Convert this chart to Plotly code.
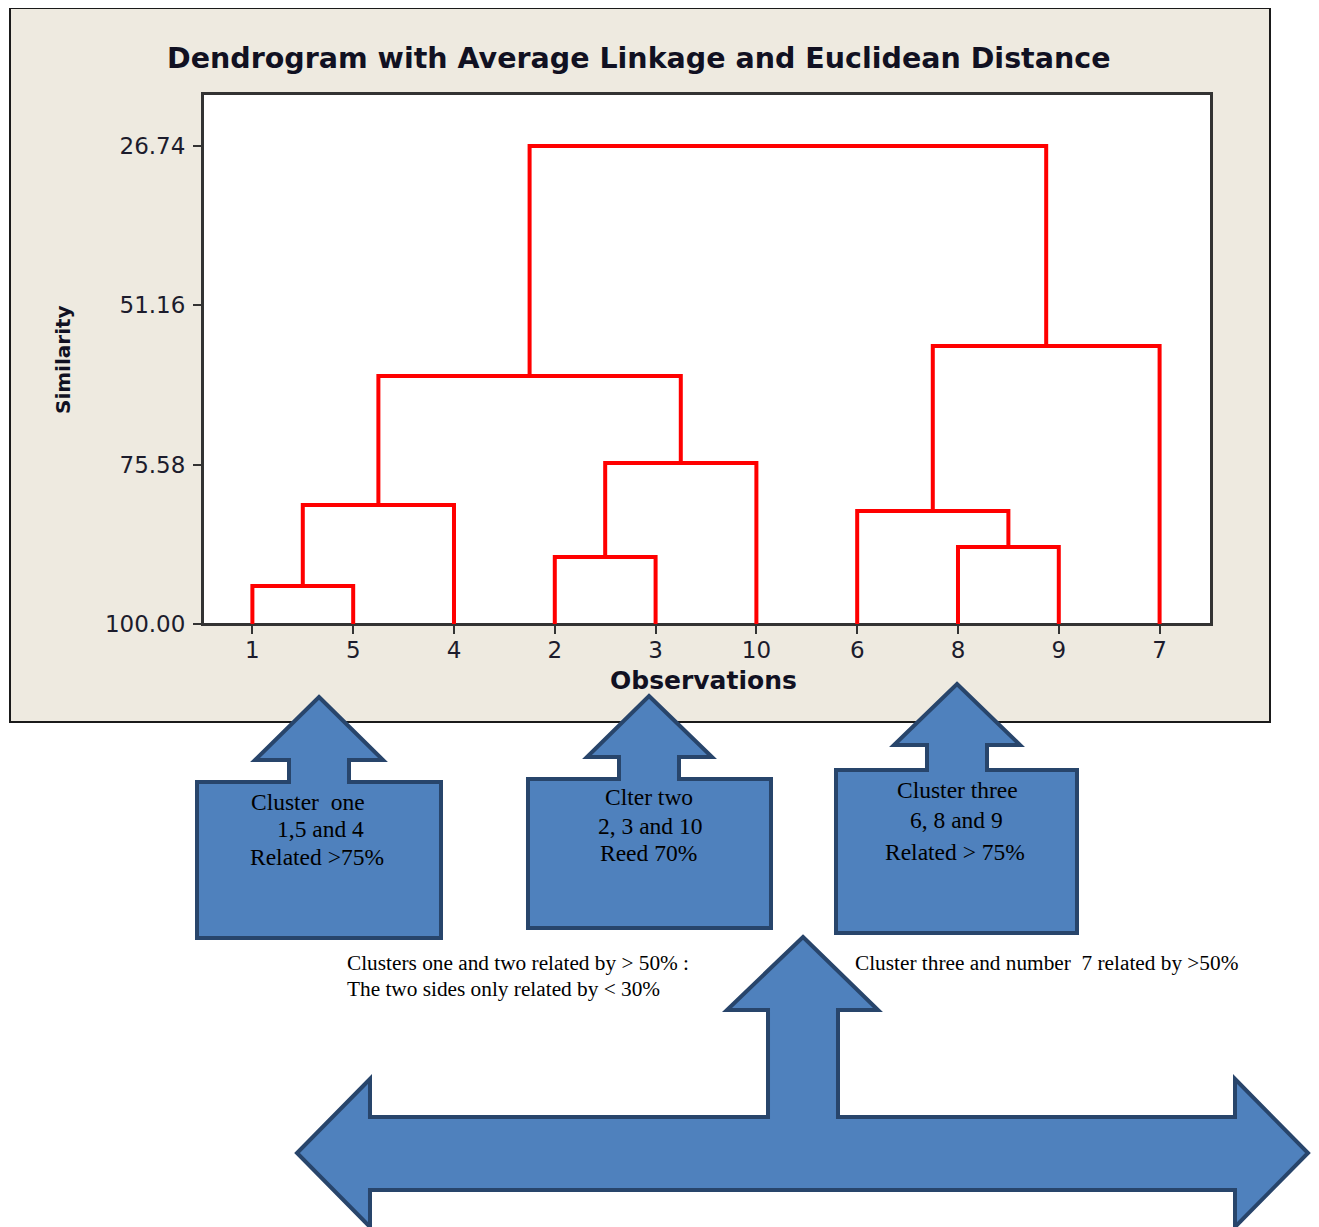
import plotly.graph_objects as go

# ---------------- data ----------------
leaf_order = [1, 5, 4, 2, 3, 10, 6, 8, 9, 7]
link_left = ["1", "L1", "2", "L3", "L2", "8", "6", "L7", "L5"]
link_right = ["5", "4", "3", "10", "L4", "9", "L6", "7", "L8"]
link_similarity = [94.17, 81.76, 89.73, 75.32, 61.99, 88.20, 82.68, 57.39, 26.74]
y_tick_values = [26.74, 51.16, 75.58, 100.00]

box_texts = [
    ["Cluster\u00a0\u00a0one", "1,5 and 4", "Related >75%"],
    ["Clter two", "2, 3 and 10", "Reed 70%"],
    ["Cluster three", "6, 8 and 9", "Related > 75%"],
]
note_left = ["Clusters one and two related by > 50% :", "The two sides only related by < 30%"]
note_right = "Cluster three and number \u00a07 related by >50%"

# ---------------- geometry helpers (page pixels -> paper) ----------------
OFF = 8                      # default page body margin
W, H = 1319 - OFF, 1227 - OFF
PL, PR, PT, PB = 203, 1211, 94, 624   # plot area in page pixels


def px(x):
    return (x - PL) / (PR - PL)


def py(y):
    return (PB - y) / (PB - PT)


def poly(points):
    return "M " + " L ".join(f"{px(x):.5f},{py(y):.5f}" for x, y in points) + " Z"


# ---------------- dendrogram segments ----------------
pos = {str(o): (i + 1, 100.0) for i, o in enumerate(leaf_order)}
xs, ys = [], []
for k, (a, b, s) in enumerate(zip(link_left, link_right, link_similarity)):
    xa, ya = pos[a]
    xb, yb = pos[b]
    xs += [xa, xa, xb, xb, None]
    ys += [ya, s, s, yb, None]
    pos[f"L{k + 1}"] = ((xa + xb) / 2, s)

fig = go.Figure()
fig.add_trace(go.Scatter(x=xs, y=ys, mode="lines",
                         line=dict(color="#FF0000", width=4),
                         hoverinfo="skip", showlegend=False))

tick_font = dict(family="DejaVu Sans", size=23, color="#1c1c2c")

fig.update_layout(
    width=W, height=H,
    margin=dict(l=PL - OFF, r=(1319 - PR), t=PT - OFF, b=(1227 - PB), pad=0),
    paper_bgcolor="white",
    plot_bgcolor="white",
    showlegend=False,
    xaxis=dict(range=[0.51, 10.51], tickmode="array",
               tickvals=list(range(1, len(leaf_order) + 1)),
               ticktext=[str(o) for o in leaf_order],
               ticks="outside", ticklen=8, tickwidth=2, tickcolor="#333",
               ticklabelstandoff=-4,
               showline=True, mirror=True, linecolor="#333", linewidth=2,
               showgrid=False, zeroline=False, tickfont=tick_font, fixedrange=True),
    yaxis=dict(range=[100, 18.77], tickmode="array",
               tickvals=y_tick_values,
               ticktext=[f"{v:.2f}" for v in y_tick_values],
               ticks="outside", ticklen=8, tickwidth=2, tickcolor="#333",
               ticklabelstandoff=3,
               showline=True, mirror=True, linecolor="#333", linewidth=2,
               showgrid=False, zeroline=False, tickfont=tick_font, fixedrange=True),
)

shapes = []
# beige chart panel
shapes.append(dict(type="rect", xref="paper", yref="paper",
                   x0=px(10), x1=px(1270), y0=py(722), y1=py(8),
                   fillcolor="#EEEAE0", line=dict(color="#1a1a1a", width=2), layer="below"))
# white plot area
shapes.append(dict(type="rect", xref="paper", yref="paper",
                   x0=px(PL), x1=px(PR), y0=py(PB), y1=py(PT),
                   fillcolor="white", line=dict(color="#333", width=2), layer="below"))

arrow_fill = "#4F81BD"
arrow_line = dict(color="#28456B", width=4)

callouts = [
    [(319, 697), (383, 760), (349, 760), (349, 782), (441, 782), (441, 938),
     (197, 938), (197, 782), (289, 782), (289, 760), (255, 760)],
    [(649, 696), (712, 757), (679, 757), (679, 779), (771, 779), (771, 928),
     (528, 928), (528, 779), (619, 779), (619, 757), (587, 757)],
    [(957, 684), (1020, 745), (987, 745), (987, 770), (1077, 770), (1077, 933),
     (836, 933), (836, 770), (927, 770), (927, 745), (894, 745)],
]
for pts in callouts:
    shapes.append(dict(type="path", xref="paper", yref="paper", path=poly(pts),
                       fillcolor=arrow_fill, line=arrow_line, layer="above"))

big_arrow = [(803, 937), (878, 1010), (838, 1010), (838, 1117), (1235, 1117), (1235, 1079),
             (1308, 1153), (1235, 1227), (1235, 1190), (370, 1190), (370, 1227),
             (297, 1153), (370, 1079), (370, 1117), (768, 1117), (768, 1010), (727, 1010)]
shapes.append(dict(type="path", xref="paper", yref="paper", path=poly(big_arrow),
                   fillcolor=arrow_fill, line=arrow_line, layer="above"))
fig.update_layout(shapes=shapes)

annotations = []
# title
annotations.append(dict(text="<b>Dendrogram with Average Linkage and Euclidean Distance</b>",
                        xref="paper", yref="paper", x=px(638), y=py(58),
                        xanchor="center", yanchor="middle", showarrow=False,
                        font=dict(family="DejaVu Sans", size=28.5, color="#111122")))
# axis titles
annotations.append(dict(text="<b>Similarity</b>", xref="paper", yref="paper",
                        x=px(63), y=py(360), textangle=-90,
                        xanchor="center", yanchor="middle", showarrow=False,
                        font=dict(family="DejaVu Sans", size=20, color="#111122")))
annotations.append(dict(text="<b>Observations</b>", xref="paper", yref="paper",
                        x=px(703), y=py(680),
                        xanchor="center", yanchor="middle", showarrow=False,
                        font=dict(family="DejaVu Sans", size=25, color="#111122")))

serif = "Liberation Serif"
box_centers = [[(308, 802), (320, 829), (317, 857)],
               [(649, 797), (650, 826), (648, 853)],
               [(957, 790), (956, 820), (955, 852)]]
for lines, centers in zip(box_texts, box_centers):
    for t, (cx, cy) in zip(lines, centers):
        annotations.append(dict(text=t, xref="paper", yref="paper", x=px(cx), y=py(cy),
                                xanchor="center", yanchor="middle", showarrow=False,
                                font=dict(family=serif, size=23.5, color="black")))

for t, cy in zip(note_left, [963, 989]):
    annotations.append(dict(text=t, xref="paper", yref="paper", x=px(345), y=py(cy),
                            xanchor="left", yanchor="middle", showarrow=False,
                            font=dict(family=serif, size=21.3, color="black")))
annotations.append(dict(text=note_right, xref="paper", yref="paper", x=px(853), y=py(963),
                        xanchor="left", yanchor="middle", showarrow=False,
                        font=dict(family=serif, size=21.3, color="black")))

fig.update_layout(annotations=annotations)

fig.write_html("out.html")
